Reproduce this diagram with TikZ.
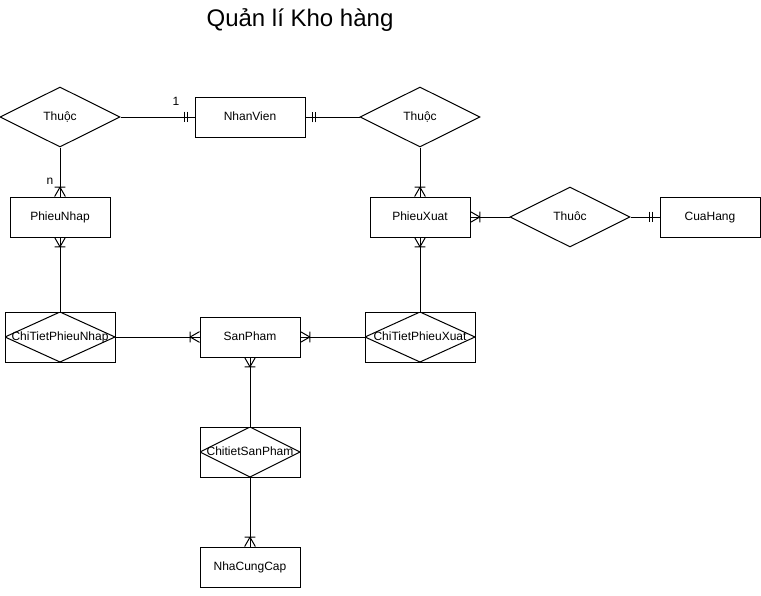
\documentclass[tikz,border=0pt]{standalone}
\usepackage{fontspec}
\setmainfont{Liberation Sans}
\usetikzlibrary{shapes.geometric}

% crow's foot with a bar (one or many)
\pgfdeclarearrow{
  name = crowone,
  setup code = {
    \pgfarrowssettipend{0pt}
    \pgfarrowssetlineend{0pt}
    \pgfarrowssetbackend{-7pt}
    \pgfarrowssetvisualbackend{-7pt}
  },
  drawing code = {
    \pgfpathmoveto{\pgfpoint{-7pt}{0pt}}\pgfpathlineto{\pgfpoint{0pt}{4pt}}
    \pgfpathmoveto{\pgfpoint{-7pt}{0pt}}\pgfpathlineto{\pgfpoint{0pt}{-4pt}}
    \pgfpathmoveto{\pgfpoint{-7pt}{4pt}}\pgfpathlineto{\pgfpoint{-7pt}{-4pt}}
    \pgfusepathqstroke
  }
}
% two bars (exactly one)
\pgfdeclarearrow{
  name = mandone,
  setup code = {
    \pgfarrowssettipend{0pt}
    \pgfarrowssetlineend{0pt}
    \pgfarrowssetbackend{-7.5pt}
    \pgfarrowssetvisualbackend{-7.5pt}
  },
  drawing code = {
    \pgfpathmoveto{\pgfpoint{-5pt}{4pt}}\pgfpathlineto{\pgfpoint{-5pt}{-4pt}}
    \pgfpathmoveto{\pgfpoint{-7.5pt}{4pt}}\pgfpathlineto{\pgfpoint{-7.5pt}{-4pt}}
    \pgfusepathqstroke
  }
}

\begin{document}
\begin{tikzpicture}[x=0.75pt,y=-0.75pt,line width=0.75pt,
				every node/.style={font=\fontsize{9}{11}\selectfont,text height=6.5pt,text depth=1.5pt},
				entity/.style={rectangle,draw,minimum width=75pt,minimum height=30pt,inner sep=0pt},
				relation/.style={diamond,draw,minimum width=90pt,minimum height=45pt,inner sep=0pt},
				assoc/.style={rectangle,draw,minimum width=82.5pt,minimum height=37.5pt,inner sep=0pt,
					path picture={\draw (path picture bounding box.north) -- (path picture bounding box.east)
						-- (path picture bounding box.south) -- (path picture bounding box.west) -- cycle;}},
				lbl/.style={inner sep=0pt}]
\useasboundingbox (0,0) rectangle (761,596);
\node[lbl,font=\fontsize{18}{21}\selectfont,text height=13pt,text depth=3pt] (title) at (300,20) {Quản lí Kho hàng};
% top row
\node[relation] (thuoc1) at (60,117) {Thuộc};
\node[entity,minimum width=82.5pt] (nhanvien) at (250,117) {NhanVien};
\node[relation] (thuoc2) at (420,117) {Thuộc};
% second row
\node[entity] (phieunhap) at (60,217) {PhieuNhap};
\node[entity] (phieuxuat) at (420,217) {PhieuXuat};
\node[relation] (thuoc3) at (570,217) {Thuôc};
\node[entity] (cuahang) at (710,217) {CuaHang};
% third row
\node[assoc] (ctpn) at (60,337) {ChiTietPhieuNhap};
\node[entity] (sanpham) at (250,337) {SanPham};
\node[assoc] (ctpx) at (420,337) {ChiTietPhieuXuat};
% bottom
\node[assoc,minimum width=75pt] (ctsp) at (250,452) {ChitietSanPham};
\node[entity] (nhacungcap) at (250,567) {NhaCungCap};
% cardinality labels
\node[lbl] (one) at (176,102) {1};
\node[lbl] (many) at (50,181) {n};
% connectors
\draw[-mandone] (thuoc1.east) -- (nhanvien.west);
\draw[-mandone] (thuoc2.west) -- (nhanvien.east);
\draw[-crowone] (thuoc1.south) -- (phieunhap.north);
\draw[-crowone] (thuoc2.south) -- (phieuxuat.north);
\draw[-crowone] (thuoc3.west) -- (phieuxuat.east);
\draw[-mandone] (thuoc3.east) -- (cuahang.west);
\draw[-crowone] (ctpn.north) -- (phieunhap.south);
\draw[-crowone] (ctpx.north) -- (phieuxuat.south);
\draw[-crowone] (ctpn.east) -- (sanpham.west);
\draw[-crowone] (ctpx.west) -- (sanpham.east);
\draw[-crowone] (ctsp.north) -- (sanpham.south);
\draw[-crowone] (ctsp.south) -- (nhacungcap.north);
\end{tikzpicture}
\end{document}
